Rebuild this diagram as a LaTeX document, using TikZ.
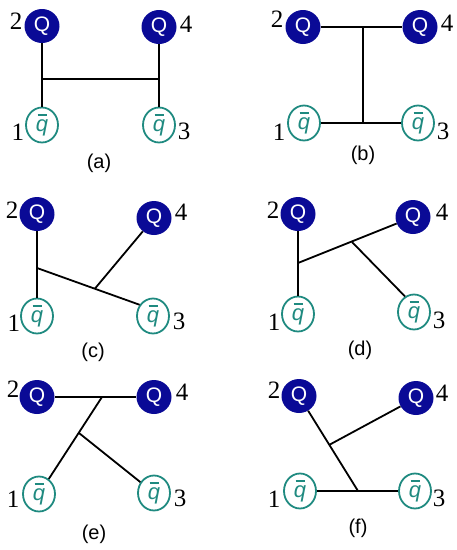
\documentclass[tikz,border=0pt]{standalone}
\usepackage{fontspec}
\setmainfont{Liberation Serif}
\newfontfamily\arialfont{Liberation Sans}
\usepackage{tikz}
\usetikzlibrary{shapes.geometric}
\definecolor{quarkblue}{HTML}{0A0A96}
\definecolor{antiteal}{HTML}{1F8A80}
\newcommand{\antiq}{\makebox[0pt][l]{\hspace{1.8pt}\rule[15pt]{9.5pt}{1.7pt}}q}

\begin{document}
\begin{tikzpicture}[x=1pt,y=-1pt,
heavy/.style={ellipse,fill=quarkblue,text=white,inner sep=0pt,minimum width=35pt,minimum height=34pt,font=\arialfont\fontsize{21}{21}\selectfont},
light/.style={ellipse,draw=antiteal,line width=1.8pt,text=antiteal,inner sep=0pt,minimum width=32pt,minimum height=35pt,font=\arialfont\itshape\fontsize{22}{22}\selectfont},
num/.style={inner sep=0pt,font=\fontsize{25}{25}\selectfont},
panel/.style={inner sep=0pt,font=\arialfont\fontsize{20}{20}\selectfont},
bond/.style={line width=1.8pt,black}
]
\useasboundingbox (0,0) rectangle (457,550);

% (a)
\node[heavy] (a2) at (42,26) {Q};
\node[heavy] (a4) at (159,27) {Q};
\node[light] (a1) at (42,125) {\antiq};
\node[light] (a3) at (159,125) {\antiq};
\node[num] (a2n) at (16,21) {2};
\node[num] (a4n) at (186,24) {4};
\node[num] (a1n) at (18,132) {1};
\node[num] (a3n) at (184,131) {3};
\node[panel] (acap) at (99,163) {(a)};
\coordinate (aj1) at (42,79);
\coordinate (aj2) at (159,79);
\draw[bond] (a2)--(a1);\draw[bond] (a4)--(a3);
\draw[bond] (aj1)--(aj2);

% (b)
\node[heavy] (b2) at (303,27) {Q};
\node[heavy] (b4) at (420,27) {Q};
\node[light] (b1) at (304,123) {\antiq};
\node[light] (b3) at (418,123) {\antiq};
\node[num] (b2n) at (277,19) {2};
\node[num] (b4n) at (447,23) {4};
\node[num] (b1n) at (279,132) {1};
\node[num] (b3n) at (443,131) {3};
\node[panel] (bcap) at (363,155) {(b)};
\coordinate (bj1) at (363,27);
\coordinate (bj2) at (363,123);
\draw[bond] (b2)--(b4);\draw[bond] (b1)--(b3);
\draw[bond] (bj1)--(bj2);

% (c)
\node[heavy] (c2) at (37,214) {Q};
\node[heavy] (c4) at (154,218) {Q};
\node[light] (c1) at (37,316) {\antiq};
\node[light] (c3) at (153,316) {\antiq};
\node[num] (c2n) at (12,210) {2};
\node[num] (c4n) at (181,212) {4};
\node[num] (c1n) at (14,323) {1};
\node[num] (c3n) at (179,321) {3};
\node[panel] (ccap) at (93,352) {(c)};
\coordinate (cj1) at (37,268);
\coordinate (cj2) at (95,288.5);
\draw[bond] (c2)--(c1);
\draw[bond] (cj1)--(c3.140);\draw[bond] (cj2)--(c4);

% (d)
\node[heavy] (d2) at (298,214) {Q};
\node[heavy] (d4) at (413,217) {Q};
\node[light] (d1) at (298,314) {\antiq};
\node[light] (d3) at (414,312) {\antiq};
\node[num] (d2n) at (273,210) {2};
\node[num] (d4n) at (442,212) {4};
\node[num] (d1n) at (274,322) {1};
\node[num] (d3n) at (439,320) {3};
\node[panel] (dcap) at (360,350) {(d)};
\coordinate (dj1) at (298,263);
\coordinate (dj2) at (352,242);
\draw[bond] (d2)--(d1);
\draw[bond] (dj1)--(d4);\draw[bond] (dj2)--(d3.120);

% (e)
\node[heavy] (e2) at (37,397) {Q};
\node[heavy] (e4) at (154,397) {Q};
\node[light] (e1) at (39,494) {\antiq};
\node[light] (e3) at (154,493) {\antiq};
\node[num] (e2n) at (13,389) {2};
\node[num] (e4n) at (182,392) {4};
\node[num] (e1n) at (13,499) {1};
\node[num] (e3n) at (180,498) {3};
\node[panel] (ecap) at (94,534) {(e)};
\coordinate (ej1) at (102,397);
\coordinate (ej2) at (79,433);
\draw[bond] (e2)--(e4);
\draw[bond] (ej1)--(e1);\draw[bond] (ej2)--(e3);

% (f)
\node[heavy] (f2) at (299,396) {Q};
\node[heavy] (f4) at (416,398) {Q};
\node[light] (f1) at (300,491) {\antiq};
\node[light] (f3) at (415,491) {\antiq};
\node[num] (f2n) at (274,390) {2};
\node[num] (f4n) at (442,393) {4};
\node[num] (f1n) at (274,499) {1};
\node[num] (f3n) at (439,498) {3};
\node[panel] (fcap) at (358,528) {(f)};
\coordinate (fj1) at (358,491);
\coordinate (fj2) at (329,445);
\draw[bond] (f1)--(f3);
\draw[bond] (fj1)--(f2);\draw[bond] (fj2)--(f4);
\end{tikzpicture}
\end{document}
